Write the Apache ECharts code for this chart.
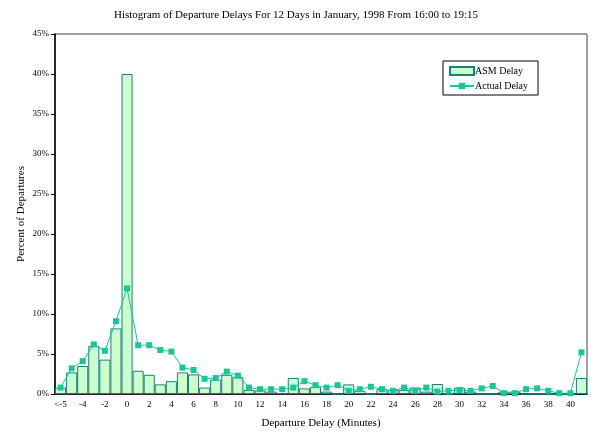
<!DOCTYPE html>
<html>
<head>
<meta charset="utf-8">
<script src="https://cdn.jsdelivr.net/npm/echarts@6/dist/echarts.min.js"></script>
<style>
  html, body { margin: 0; padding: 0; background: #fff; }
  #chart { width: 592px; height: 432px; }
</style>
</head>
<body>
<div id="chart"></div>
<script>
// delay categories, one per minute
var categories = ['<-5', '-5', '-4', '-3', '-2', '-1', '0', '1', '2', '3', '4', '5', '6', '7', '8', '9',
    '10', '11', '12', '13', '14', '15', '16', '17', '18', '19', '20', '21', '22', '23', '24', '25',
    '26', '27', '28', '29', '30', '31', '32', '33', '34', '35', '36', '37', '38', '39', '40', '>40'];

// percent of departures
var asmDelay = [0.8, 2.7, 3.5, 6.0, 4.3, 8.2, 40.0, 2.9, 2.4, 1.2, 1.6, 2.7, 2.45, 0.8, 1.8, 2.4,
    2.1, 0.5, 0.45, 0.3, 0.1, 2.0, 0.7, 0.9, 0.3, 0, 1.2, 0.4, 0, 0.6, 0.5, 0.5,
    0.8, 0.3, 1.25, 0, 0.8, 0.3, 0, 0, 0.3, 0.3, 0, 0, 0, 0, 0, 2.0];
var actualDelay = [0.8, 3.2, 4.1, 6.2, 5.4, 9.1, 13.2, 6.1, 6.1, 5.5, 5.3, 3.3, 3.0, 1.9, 2.0, 2.8,
    2.3, 0.8, 0.6, 0.6, 0.6, 0.8, 1.6, 1.1, 0.8, 1.1, 0.4, 0.6, 0.9, 0.6, 0.4, 0.8,
    0.4, 0.8, 0.3, 0.4, 0.5, 0.4, 0.7, 1.0, 0.1, 0.1, 0.6, 0.7, 0.4, 0.1, 0.1, 5.2];

var font = 'Liberation Serif';
var chart = echarts.init(document.getElementById('chart'));

var option = {
    animation: false,
    textStyle: { fontFamily: font },
    title: {
        text: 'Histogram of Departure Delays For 12 Days in January, 1998 From 16:00 to 19:15',
        left: 'center',
        top: 5,
        textStyle: { fontFamily: font, fontSize: 11, fontWeight: 'normal', color: '#000' }
    },
    legend: {
        orient: 'vertical',
        left: 443,
        top: 61,
        width: 80,
        padding: [5, 10, 4, 6],
        itemGap: 5,
        itemWidth: 24,
        itemHeight: 8,
        backgroundColor: '#fff',
        borderColor: '#000',
        borderWidth: 1,
        borderRadius: 0,
        textStyle: { fontFamily: font, fontSize: 10, color: '#000', padding: [0, 0, 0, -4] },
        data: [{ name: 'ASM Delay', icon: 'rect' }, { name: 'Actual Delay' }]
    },
    grid: {
        left: 55,
        right: 5,
        top: 34,
        bottom: 38,
        outerBoundsMode: 'none',
        show: true,
        borderColor: '#444',
        borderWidth: 1
    },
    xAxis: {
        type: 'category',
        data: categories,
        name: 'Departure Delay (Minutes)',
        nameLocation: 'middle',
        nameGap: 24,
        nameTextStyle: { fontFamily: font, fontSize: 11, color: '#000' },
        axisLine: { lineStyle: { color: '#000', width: 1.5 } },
        axisTick: { interval: 0, length: 3, lineStyle: { color: '#000' } },
        axisLabel: { interval: 1, fontFamily: font, fontSize: 9, color: '#000', margin: 6 }
    },
    yAxis: {
        type: 'value',
        min: 0,
        max: 45,
        interval: 5,
        name: 'Percent of Departures',
        nameLocation: 'middle',
        nameGap: 28,
        nameMoveOverlap: false,
        nameTextStyle: { fontFamily: font, fontSize: 11, color: '#000' },
        axisLine: { show: true, lineStyle: { color: '#000', width: 1.5 } },
        axisTick: { show: true, length: 4, lineStyle: { color: '#000' } },
        splitLine: { show: false },
        axisLabel: { formatter: '{value}%', fontFamily: font, fontSize: 9, color: '#000', margin: 6 }
    },
    series: [
        {
            name: 'ASM Delay',
            type: 'bar',
            data: asmDelay,
            barCategoryGap: '0%',
            itemStyle: { color: '#ccffcc', borderColor: '#1a7f7f', borderWidth: 1 }
        },
        {
            name: 'Actual Delay',
            type: 'line',
            data: actualDelay,
            symbol: 'rect',
            symbolSize: 6,
            lineStyle: { color: '#14c995', width: 1 },
            itemStyle: { color: '#14c995' }
        }
    ]
};

chart.setOption(option);
</script>
</body>
</html>
